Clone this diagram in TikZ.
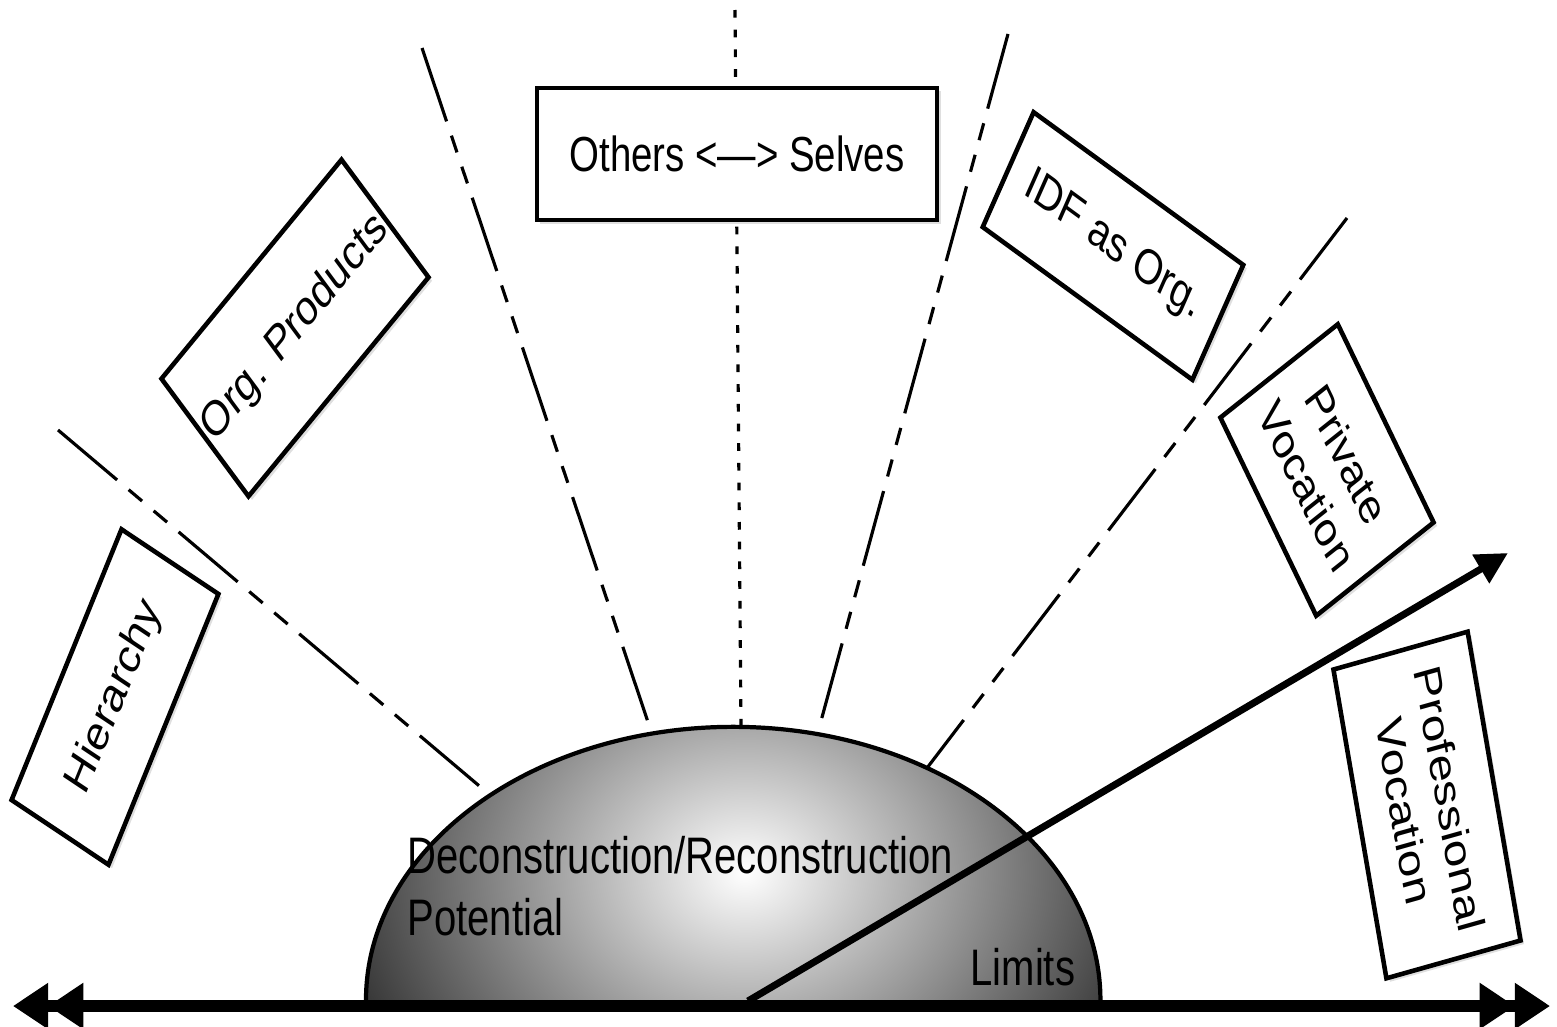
\documentclass[tikz,border=0pt]{standalone}
\usepackage{fontspec}
\setmainfont{Liberation Sans}
\usetikzlibrary{arrows.meta,shadows}

\definecolor{domedark}{gray}{0.2}
\tikzset{
  squish/.style={xscale=0.78},
  tag/.style={squish, draw, line width=1.3pt, fill=white, inner sep=0pt, align=center,
    drop shadow={shadow xshift=1pt, shadow yshift=-1pt, opacity=0.25}},
  domelabel/.style={squish, anchor=base west, inner sep=0pt, font=\fontsize{14.6}{17}\selectfont},
  ray/.style={line width=0.9pt, dash pattern=on 22pt off 4.3pt on 5pt off 4.3pt on 5pt off 4.3pt},
  dots/.style={line width=0.9pt, dash pattern=on 2.2pt off 3.4pt},
  dbl/.tip={Triangle[length=10pt,width=12.5pt,sep=0pt]Triangle[length=10pt,width=12.5pt]},
}

\begin{document}
\begin{tikzpicture}[x=0.01cm,y=-0.01cm,every node/.style={font=\fontsize{14}{17}\selectfont}]
    %\draw[help lines,step=100] (0,0) grid (1557,1027);
    \useasboundingbox (0,0) rectangle (1557,1027);
    % rays out of the dome
       \coordinate (e1) at (58,430);    \coordinate (r1) at (490,795);
       \coordinate (e2) at (422,48);    \coordinate (r2) at (650,728);
       \coordinate (e3) at (735,10);    \coordinate (r3) at (741,727);
       \coordinate (e4) at (1008,34);   \coordinate (r4) at (821,721);
       \coordinate (e5) at (1347,218);  \coordinate (r5) at (927,768);
       \draw[ray] (e1) -- (r1);
       \draw[ray] (e2) -- (r2);
       \draw[dots] (e3) -- (r3);
       \draw[ray] (e4) -- (r4);
       \draw[ray] (e5) -- (r5);
    % dome
       \begin{scope}
          \clip (366,1000) arc[start angle=180,end angle=0,x radius=3.67cm,y radius=2.73cm] -- cycle;
          \shade[inner color=white,outer color=domedark] (745,872) ellipse [x radius=4.2cm,y radius=3.4cm];
       \end{scope}
       \draw[line width=1.2pt] (366,1000) arc[start angle=180,end angle=0,x radius=3.67cm,y radius=2.73cm];
    % arrow and axis
       \coordinate (arrs) at (748,1001);
       \coordinate (arre) at (1508,553);
       \draw[line width=2pt,-{Triangle[length=9pt,width=9pt]}] (arrs) -- (arre);
       \coordinate (axl) at (13,1006);
       \coordinate (axr) at (1550,1006);
       \draw[line width=3.6pt,{dbl}-{dbl}] (axl) -- (axr);
    % dome texts
       \node[domelabel] (decon) at (407,873) {Deconstruction/Reconstruction};
       \node[domelabel] (potent) at (407,935) {Potential};
       \node[domelabel] (limits) at (970,985) {Limits};
    % boxes
       \node[tag,rotate=62.5,minimum width=3.05cm,minimum height=1.4cm] (hier) at (115,697) {Hierarchy};
       \node[tag,rotate=43.5,minimum width=3.18cm,minimum height=1.62cm] (prod) at (295,328) {Org. Products};
       \node[tag,minimum width=5.13cm,minimum height=1.32cm] (others) at (737,154) {Others <—> Selves};
       \node[tag,rotate=-29.6,minimum width=3.09cm,minimum height=1.32cm] (idf) at (1113,246) {IDF as Org.};
       \node[tag,rotate=-58.2,minimum width=2.33cm,minimum height=1.77cm] (privvoc) at (1327,470) {Private\\Vocation};
       \node[tag,rotate=-77.6,minimum width=3.16cm,minimum height=1.76cm] (profvoc) at (1427,805) {Professional\\Vocation};
\end{tikzpicture}
\end{document}
